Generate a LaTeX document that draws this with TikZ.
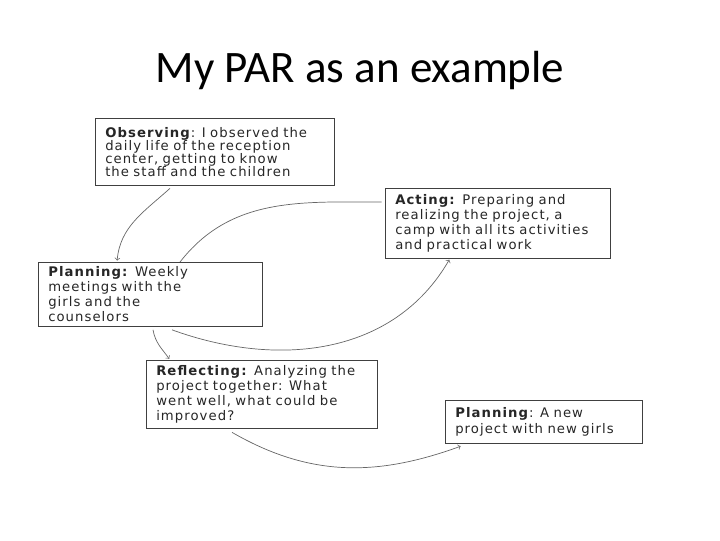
\documentclass[tikz,border=0pt]{standalone}
\usepackage{fontspec}
\setmainfont{DejaVu Sans}
\newfontfamily\titlefont{Carlito}
\newfontfamily\boxfont{DejaVu Sans}[LetterSpace=8]
\usepackage{xcolor}
\usepackage{tikz}
\usetikzlibrary{calc}

\begin{document}
\begin{tikzpicture}[x=0.025cm, y=0.025cm, shorten >=1pt,
        box/.style={draw=black!75, line width=0.6pt, anchor=north west, align=left,
            inner xsep=7pt, inner ysep=3pt, text width=#1,
            font=\boxfont\fontsize{9.4}{10.7}\selectfont, text=black!85},
        link/.style={draw=black!60, line width=0.5pt}]
        \useasboundingbox (0,0) rectangle (720,540);

        \node (title) at (360,469) {\titlefont\fontsize{32}{38}\selectfont My PAR as an example};

        \node[box=156pt, minimum height=48pt, font=\boxfont\fontsize{9.4}{9.4}\selectfont] (obs) at (95,422)
            {\textbf{Observing}: I observed the\\daily life of the reception\\center, getting to know\\the staff and the children};
        \node[box=146pt, minimum height=49.5pt] (act) at (385,352)
            {\textbf{Acting:} Preparing and\\realizing the project, a\\camp with all its activities\\and practical work};
        \node[box=145pt, minimum height=45.5pt] (plan) at (38,278)
            {\textbf{Planning:} Weekly\\meetings with the\\girls and the\\counselors};
        \node[box=150pt, minimum height=48pt] (refl) at (146,180)
            {\textbf{Reflecting:} Analyzing the\\project together: What\\went well, what could be\\improved?};
        \node[box=126pt, minimum height=30.5pt] (newplan) at (445,140)
            {\textbf{Planning}: A new\\project with new girls};

        \path[->]
        ($(obs.south west)+(75,-2)$) edge[link, out=222, in=85] ($(plan.north west)+(79,0)$)
        ($(plan.south west)+(134,-3)$) edge[link, out=340, in=240] ($(act.south west)+(65,0)$)
        ($(plan.south west)+(115,-3)$) edge[link, out=280, in=125] ($(refl.north west)+(24,0)$)
        ($(refl.south west)+(86,-4)$) edge[link, out=330, in=200] ($(newplan.south west)+(17,-2)$);

        \path
        ($(plan.north west)+(142,0)$) edge[link, out=52, in=180] ($(act.north west)+(-2,-14)$);

    \end{tikzpicture}
\end{document}
